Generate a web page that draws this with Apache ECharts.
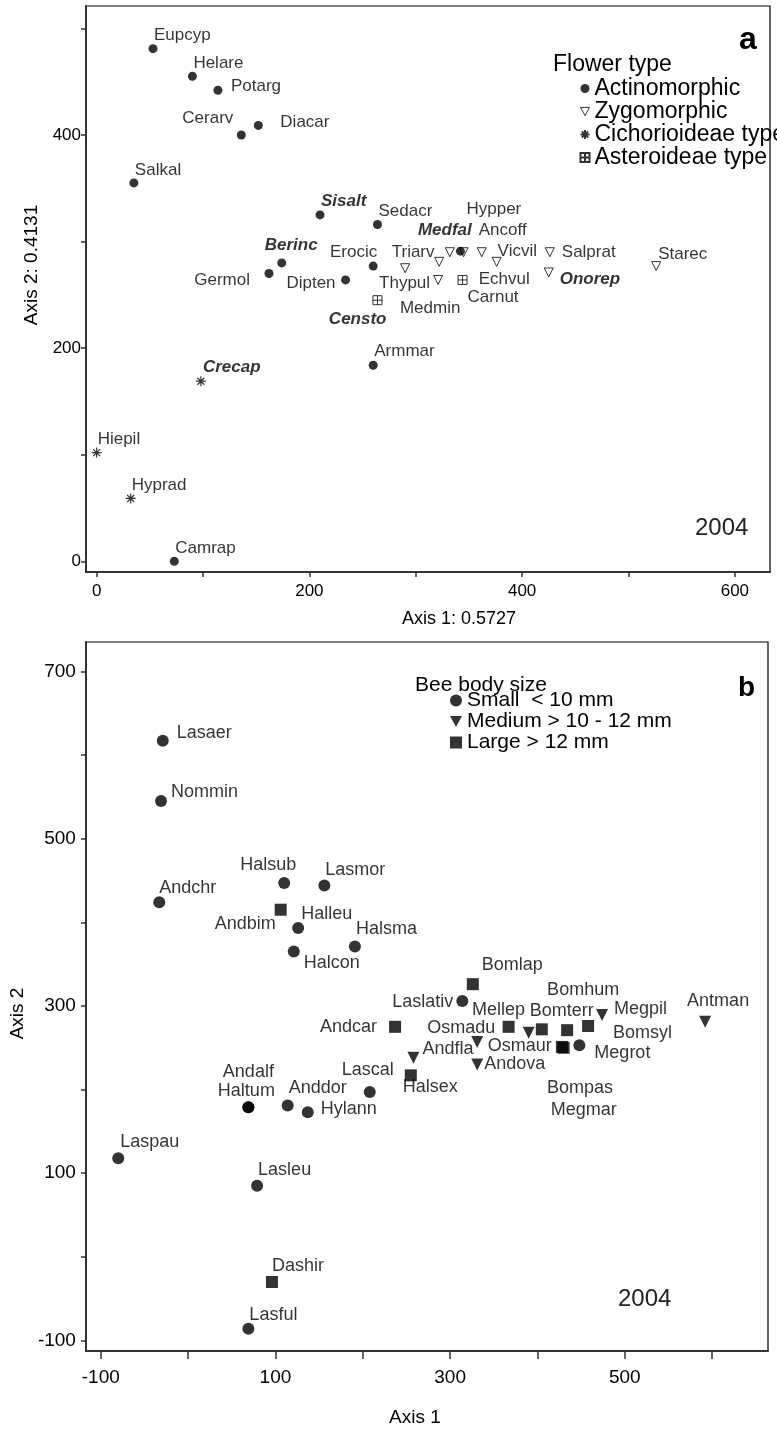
<!DOCTYPE html>
<html>
<head>
<meta charset="utf-8">
<script src="https://cdn.jsdelivr.net/npm/echarts@6/dist/echarts.min.js"></script>
<style>
html,body{margin:0;padding:0;background:#fff;}
#chart{width:777px;height:1432px;}
</style>
</head>
<body>
<div id="chart"></div>
<script>
// ---- panel a : plant species, flower type ----
var actinoNames = ['Eupcyp','Helare','Potarg','Cerarv','Diacar','Salkal','Sisalt','Sedacr','Berinc','Germol','Dipten','Erocic','Armmar','Camrap','Hypper'];
var actinoX = [53, 90, 114, 136, 152, 35, 210, 264, 174, 162, 234, 260, 260, 73, 342];
var actinoY = [481, 455, 442, 400, 409, 355, 325, 316, 280, 270, 264, 277, 184, 0, 291];

var zygoNames = ['Triarv','Medmin','Medfal','Echvul','Ancoff','Vicvil','Thypul','Salprat','Onorep','Starec'];
var zygoX = [290, 322, 332, 345, 362, 376, 321, 426, 425, 526];
var zygoY = [275, 281, 290, 290, 290, 281, 264, 290, 271, 277];

var cichorNames = ['Crecap','Hiepil','Hyprad'];
var cichorX = [98, 0, 32];
var cichorY = [169, 102, 59];

var asterNames = ['Censto','Carnut'];
var asterX = [264, 344];
var asterY = [245, 264];

// ---- panel b : bee species, body size ----
var smallNames = ['Lasaer','Nommin','Andchr','Halsub','Lasmor','Halleu','Halcon','Halsma','Andalf','Haltum','Anddor','Hylann','Lascal','Laspau','Lasleu','Lasful','Laslativ','Megrot'];
var smallX = [-29, -31, -33, 110, 156, 126, 121, 191, 69, 69, 114, 137, 208, -80, 79, 69, 314, 448];
var smallY = [617, 545, 424, 447, 444, 393, 365, 371, 179, 179, 181, 173, 197, 118, 85, -86, 306, 253];

var mediumNames = ['Osmadu','Andfla','Andova','Osmaur','Megpil','Antman'];
var mediumX = [331, 258, 331, 390, 474, 592];
var mediumY = [257, 238, 230, 268, 289, 281];

var largeNames = ['Andbim','Andcar','Bomlap','Halsex','Dashir','Mellep','Bomterr','Bomhum','Bompas','Megmar','Bomsyl'];
var largeX = [106, 237, 326, 255, 96, 367, 405, 434, 428, 430, 458];
var largeY = [415, 275, 326, 217, -30, 275, 272, 271, 251, 250, 276];

var ticksA = [0, 100, 200, 300, 400, 500, 600];
var xLabelsA = [0, 200, 400, 600];
var yLabelsA = [0, 200, 400];
var ticksBx = [-100, 0, 100, 200, 300, 400, 500, 600];
var xLabelsB = [-100, 100, 300, 500];
var ticksBy = [-100, 0, 100, 200, 300, 400, 500, 600, 700];
var yLabelsB = [-100, 100, 300, 500, 700];

var boldNames = ['Sisalt','Medfal','Berinc','Censto','Crecap','Onorep'];

// label anchor offset from marker centre [dx, dy, align]
var labelAt = {
	Eupcyp:[1,-13,'left'], Helare:[1,-13,'left'], Potarg:[13,-4,'left'], Cerarv:[-8,-17,'right'],
	Diacar:[22,-3,'left'], Salkal:[1,-13,'left'], Sisalt:[1,-14,'left'], Sedacr:[1,-13,'left'],
	Berinc:[-17,-18,'left'], Germol:[-19,7,'right'], Dipten:[-10,3,'right'], Erocic:[4,-14,'right'],
	Armmar:[1,-14,'left'], Camrap:[1,-13,'left'], Hypper:[6,-42,'left'],
	Triarv:[8,-16,'center'], Medmin:[-9,46,'center'], Medfal:[-5,-22,'center'], Echvul:[15,27,'left'],
	Ancoff:[-3,-22,'left'], Vicvil:[1,-11,'left'], Thypul:[-8,3,'right'], Salprat:[12,0,'left'],
	Onorep:[11,7,'left'], Starec:[2,-12,'left'],
	Crecap:[2,-14,'left'], Hiepil:[1,-13,'left'], Hyprad:[1,-13,'left'],
	Censto:[9,19,'right'], Carnut:[5,17,'left'],
	Lasaer:[14,-8,'left'], Nommin:[10,-9,'left'], Andchr:[0,-14,'left'], Halsub:[-16,-18,'center'],
	Lasmor:[1,-15,'left'], Halleu:[3,-14,'left'], Halcon:[10,11,'left'], Halsma:[1,-17,'left'],
	Andalf:[0,-35,'center'], Haltum:[-2,-16,'center'], Anddor:[1,-17,'left'], Hylann:[13,-3,'left'],
	Lascal:[-2,-22,'center'], Laspau:[2,-16,'left'], Lasleu:[1,-16,'left'], Lasful:[1,-14,'left'],
	Laslativ:[-9,1,'right'], Megrot:[15,8,'left'],
	Osmadu:[-16,-14,'center'], Andfla:[9,-9,'left'], Andova:[7,0,'left'], Osmaur:[-9,13,'center'],
	Megpil:[12,-6,'left'], Antman:[13,-21,'center'],
	Andbim:[-5,14,'right'], Andcar:[-18,0,'right'], Bomlap:[9,-19,'left'], Halsex:[-8,12,'left'],
	Dashir:[0,-16,'left'], Mellep:[-10,-17,'center'], Bomterr:[20,-18,'center'], Bomhum:[16,-40,'center'],
	Bompas:[18,41,'center'], Megmar:[20,62,'center'], Bomsyl:[25,7,'left']
};

var FONT = "'Liberation Sans', Arial, sans-serif";

function points(names, xs, ys, size) {
	var out = [];
	for (var i = 0; i < names.length; i++) {
		var p = labelAt[names[i]] || [4, -12, 'left'];
		var bold = boldNames.indexOf(names[i]) !== -1;
		out.push({
			name: names[i],
			value: [xs[i], ys[i]],
			label: {
				show: true,
				position: 'inside',
				formatter: '{b}',
				align: p[2],
				verticalAlign: 'middle',
				offset: [p[0], p[1]],
				fontSize: size,
				fontFamily: FONT,
				color: '#000',
				fontWeight: bold ? 'bold' : 'normal',
				fontStyle: bold ? 'italic' : 'normal'
			}
		});
	}
	return out;
}

var asterisk = 'path://M5 0L5 10M0 5L10 5M1.5 1.5L8.5 8.5M8.5 1.5L1.5 8.5';
var boxCross = 'path://M0 0L10 0L10 10L0 10ZM5 0L5 10M0 5L10 5';
var triDown = 'path://M0 0L10 0L5 9Z';

function scatter(name, idx, data, symbol, size, style) {
	return {
		name: name, type: 'scatter', xAxisIndex: idx, yAxisIndex: idx,
		symbol: symbol, symbolSize: size,
		itemStyle: style, data: data, silent: true, z: 3
	};
}

function valueAxis(idx, min, max, ticks, labels, fs, margin, tickLen, name, nameFs, gap, isY, namePad) {
	return {
		type: 'value', gridIndex: idx, min: min, max: max,
		name: name, nameLocation: 'middle', nameGap: gap, nameRotate: isY ? 90 : 0,
		nameTextStyle: {fontFamily: FONT, fontSize: nameFs, color: '#000', padding: namePad || 0},
		axisLine: {show: true, onZero: false, lineStyle: {color: '#333', width: 2}},
		axisTick: {show: true, customValues: ticks, length: tickLen, lineStyle: {color: '#333', width: 1.5}},
		axisLabel: {customValues: labels, fontFamily: FONT, fontSize: fs, color: '#000', margin: margin},
		splitLine: {show: false}
	};
}

var openShape = {color: '#fff', borderColor: '#000', borderWidth: 1};
var solid = {color: '#000'};
var openStroke = {color: 'none', borderColor: '#000', borderWidth: 1.2};

var option = {
	animation: false,
	backgroundColor: '#fff',
	grid: [
		{left: 86, top: 6, width: 684, height: 566, show: true, borderColor: '#000', borderWidth: 1.2, backgroundColor: 'transparent'},
		{left: 82, top: 642, width: 686, height: 718, show: true, borderColor: '#000', borderWidth: 1.2, backgroundColor: 'transparent'}
	],
	xAxis: [
		valueAxis(0, -10, 633, ticksA, xLabelsA, 17, 11, 5, 'Axis 1: 0.5727', 18, 38, false, [0, 0, 0, 62]),
		valueAxis(1, -117, 664, ticksBx, xLabelsB, 19, 17, 8, 'Axis 1', 19, 57, false, [0, 24, 0, 0])
	],
	yAxis: [
		valueAxis(0, -10, 521, ticksA, yLabelsA, 17, 5, 5, 'Axis 2: 0.4131', 19, 43, true, [0, 0, 0, 48]),
		valueAxis(1, -112.5, 735, ticksBy, yLabelsB, 19, 10, 5, 'Axis 2', 19, 54, true, [0, 34, 0, 0])
	],
	legend: [
		{
			left: 578, top: 77, orient: 'vertical', itemGap: 0, itemWidth: 9, itemHeight: 9, padding: 0,
			textStyle: {fontFamily: FONT, fontSize: 23, color: '#000', lineHeight: 22.5},
			data: [
				{name: 'Actinomorphic', icon: 'circle'},
				{name: 'Zygomorphic', icon: triDown, itemStyle: openShape},
				{name: 'Cichorioideae type', icon: asterisk},
				{name: 'Asteroideae type', icon: boxCross}
			],
			selectedMode: false
		},
		{
			left: 450, top: 690, orient: 'vertical', itemGap: 0, itemWidth: 12, itemHeight: 12, padding: 0,
			textStyle: {fontFamily: FONT, fontSize: 21, color: '#000', lineHeight: 19},
			data: [
				{name: 'Small  < 10 mm', icon: 'circle'},
				{name: 'Medium > 10 - 12 mm', icon: triDown},
				{name: 'Large > 12 mm', icon: 'rect'}
			],
			selectedMode: false
		}
	],
	graphic: [
		{type: 'text', left: 553, top: 53, style: {text: 'Flower type', font: '23px ' + FONT, fill: '#000'}},
		{type: 'text', left: 739, top: 24, style: {text: 'a', font: 'bold 32px ' + FONT, fill: '#000'}},
		{type: 'text', left: 695, top: 516, style: {text: '2004', font: '24px ' + FONT, fill: '#222'}},
		{type: 'text', left: 415, top: 675, style: {text: 'Bee body size', font: '21px ' + FONT, fill: '#000'}},
		{type: 'text', left: 738, top: 674, style: {text: 'b', font: 'bold 28px ' + FONT, fill: '#000'}},
		{type: 'text', left: 618, top: 1287, style: {text: '2004', font: '24px ' + FONT, fill: '#222'}}
	],
	series: [
		scatter('Zygomorphic', 0, points(zygoNames, zygoX, zygoY, 17), triDown, 9, openShape),
		scatter('Cichorioideae type', 0, points(cichorNames, cichorX, cichorY, 17), asterisk, 10, openStroke),
		scatter('Asteroideae type', 0, points(asterNames, asterX, asterY, 17), boxCross, 9, openShape),
		scatter('Actinomorphic', 0, points(actinoNames, actinoX, actinoY, 17), 'circle', 9, solid),
		scatter('Medium > 10 - 12 mm', 1, points(mediumNames, mediumX, mediumY, 18), triDown, 12, solid),
		scatter('Large > 12 mm', 1, points(largeNames, largeX, largeY, 18), 'rect', 12, solid),
		scatter('Small  < 10 mm', 1, points(smallNames, smallX, smallY, 18), 'circle', 12, solid)
	]
};

var myChart = echarts.init(document.getElementById('chart'), null, {renderer: 'canvas'});
myChart.setOption(option);
</script>
</body>
</html>
